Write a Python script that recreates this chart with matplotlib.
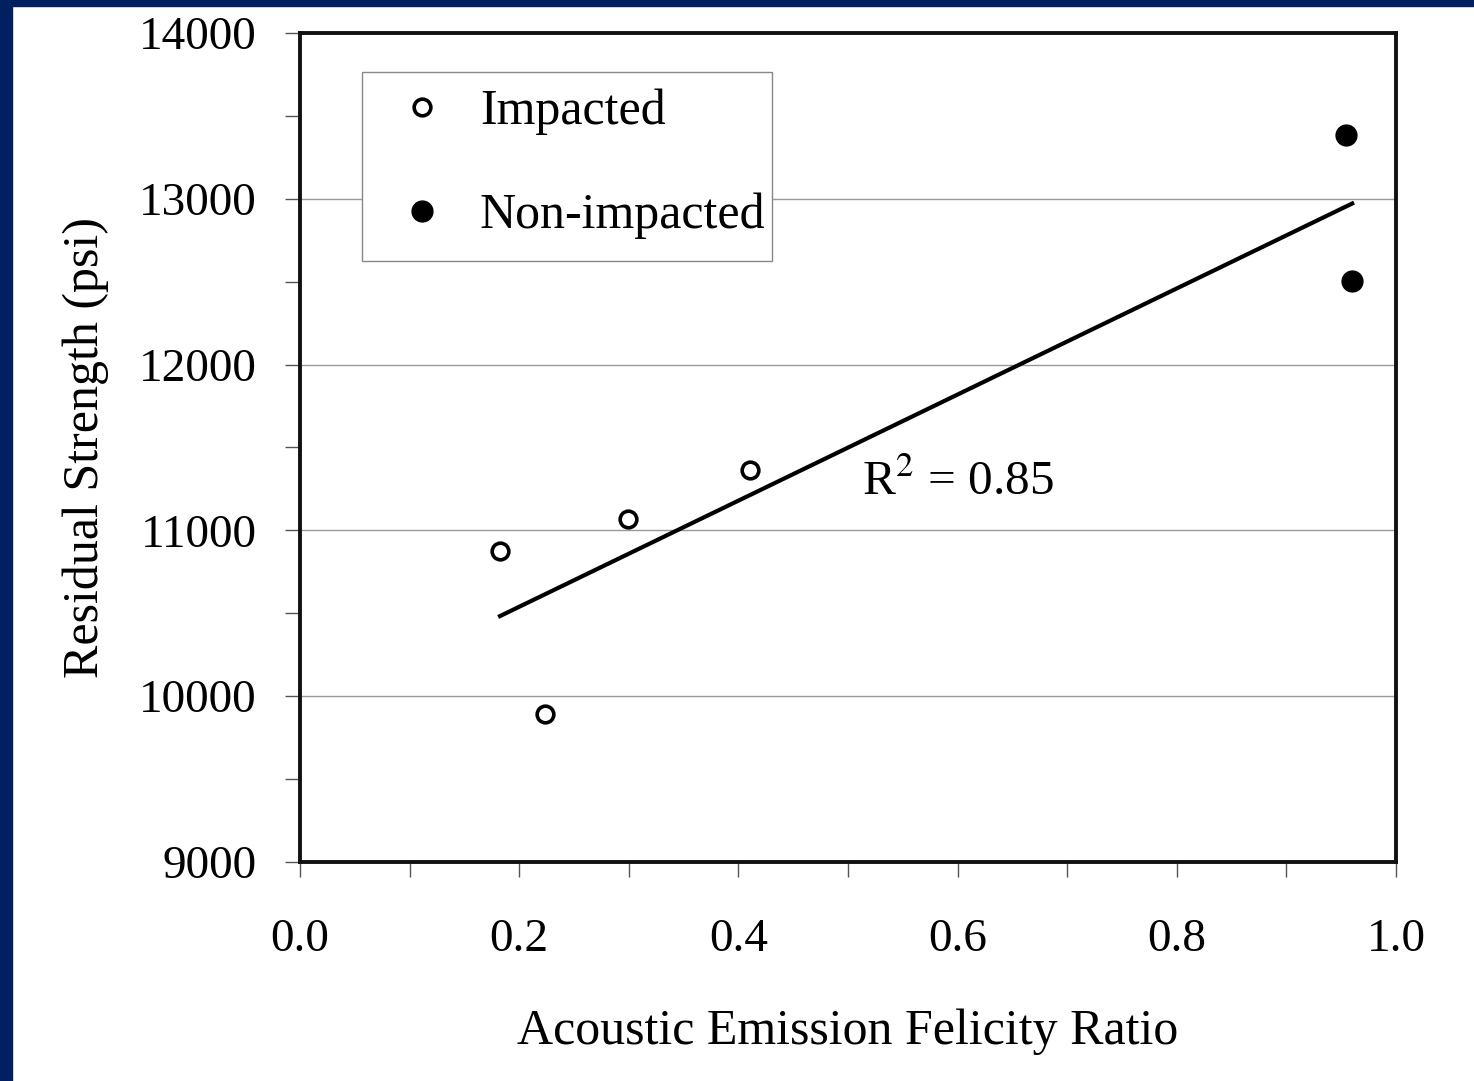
import numpy as np
import matplotlib.pyplot as plt
from matplotlib.patches import Rectangle
from matplotlib.ticker import MultipleLocator

# data
impacted_x = [0.1825, 0.2235, 0.299, 0.4106]
impacted_y = [10876, 9893, 11069, 11364]
nonimp_x = [0.954, 0.960]
nonimp_y = [13385, 12504]

all_x = np.array(impacted_x + nonimp_x)
all_y = np.array(impacted_y + nonimp_y)
slope, intercept = np.polyfit(all_x, all_y, 1)
fit_x = np.array([all_x.min(), all_x.max()])
fit_y = slope * fit_x + intercept
r2 = 1 - np.sum((all_y - (slope * all_x + intercept)) ** 2) / np.sum((all_y - all_y.mean()) ** 2)

plt.rcParams['font.family'] = ['Liberation Serif', 'DejaVu Serif']
plt.rcParams['mathtext.fontset'] = 'stix'
fs_tick = 34
fs = 36

fig = plt.figure(figsize=(14.74, 10.81), dpi=100)
ax = fig.add_axes([300 / 1474, 1 - 862 / 1081, 1096 / 1474, 829 / 1081])

# navy slide border
fig.patches.append(Rectangle((0, 0), 12 / 1474, 1, transform=fig.transFigure, color='#002060', zorder=0))
fig.patches.append(Rectangle((0, 1 - 6 / 1081), 1, 6 / 1081, transform=fig.transFigure, color='#002060', zorder=0))

ax.plot(fit_x, fit_y, color='black', lw=3, zorder=2)
ax.plot(impacted_x, impacted_y, 'o', ms=12, mfc='white', mec='black', mew=2.6,
        label='Impacted', zorder=3)
ax.plot(nonimp_x, nonimp_y, 'o', ms=15, mfc='black', mec='black',
        label='Non-impacted', zorder=3)

ax.text(0.513, 11290, 'R$^{2}$ = %.2f' % r2, fontsize=35.5, va='center', ha='left')

ax.set_xlim(0, 1.0)
ax.set_ylim(9000, 14000)
ax.xaxis.set_minor_locator(MultipleLocator(0.1))
ax.yaxis.set_major_locator(MultipleLocator(1000))
ax.yaxis.set_minor_locator(MultipleLocator(500))
ax.set_xticks([0.0, 0.2, 0.4, 0.6, 0.8, 1.0])
ax.set_xticklabels(['0.0', '0.2', '0.4', '0.6', '0.8', '1.0'])

ax.tick_params(axis='x', which='both', direction='out', length=11, width=1,
               color='#555555', labelsize=fs_tick, pad=30)
ax.tick_params(axis='y', which='both', direction='out', length=11, width=1,
               color='#555555', labelsize=fs_tick, pad=20)

ax.grid(True, axis='y', which='major', color='#999999', lw=1)
for sp in ax.spines.values():
    sp.set_linewidth(2.8)
    sp.set_color('#111111')

ax.set_xlabel('Acoustic Emission Felicity Ratio', fontsize=fs, labelpad=34)
ax.set_ylabel('Residual Strength (psi)', fontsize=fs, labelpad=22)

# legend box drawn separately so its size matches the reference
ax.add_patch(Rectangle((0.0566, 0.725), 0.374, 0.228, transform=ax.transAxes,
                       facecolor='white', edgecolor='#888888', lw=1, zorder=4))
leg = ax.legend(loc='upper left', bbox_to_anchor=(0.0976, 0.933), borderaxespad=0,
                fontsize=fs, frameon=False, handlelength=0.6, handletextpad=0.86,
                labelspacing=1.15, borderpad=0)
leg.set_zorder(5)

fig.savefig('out.png', dpi=100)
